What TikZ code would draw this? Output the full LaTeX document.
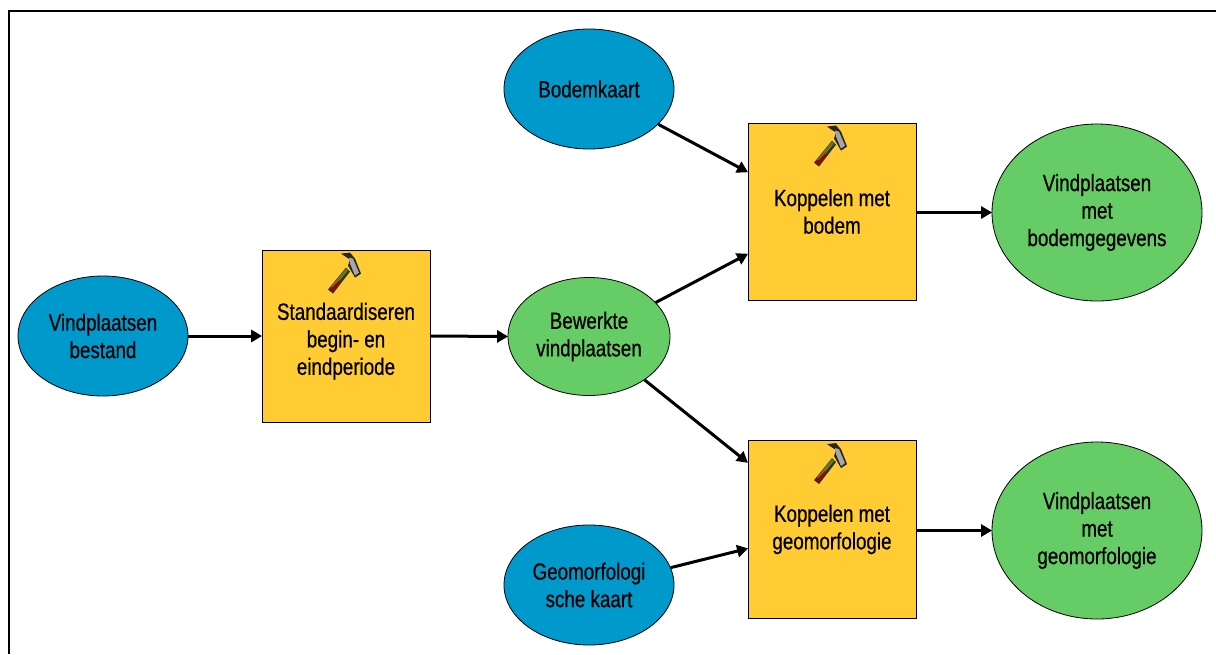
\documentclass[tikz,border=0pt]{standalone}
\usepackage{fontspec}
\setmainfont[FakeStretch=0.8,FakeBold=0.6]{Liberation Sans}
\usetikzlibrary{arrows.meta,shapes.geometric}
\definecolor{cblue}{HTML}{0099CC}
\definecolor{cyellow}{HTML}{FFCC33}
\definecolor{cgreen}{HTML}{66CC66}
\tikzset{
  x=1pt,y=-1pt,
  basetxt/.style={align=center,font=\fontsize{23.5}{27.5}\selectfont,text=black,inner sep=0pt},
  dataell/.style={basetxt,shape=ellipse,draw=black,line width=0.8pt,minimum width=170pt,minimum height=120pt},
  inblue/.style={dataell,fill=cblue},
  outgreen/.style={dataell,fill=cgreen},
  toolbox/.style={basetxt,shape=rectangle,draw=black,line width=0.8pt,fill=cyellow,minimum width=168pt},
  flow/.style={draw=black,line width=3pt,-{Triangle[length=11pt,width=12pt]},shorten >=-0.5pt},
  pics/hammer/.style={code={
    \fill[black!80] (-18,40) -- (-13,44) -- (4,22) -- (0,18) -- cycle;
    \fill[olive!85!green!75!black] (-15,37) -- (-13,39) -- (2,21) -- (0,19) -- cycle;
    \fill[red!65!black] (-16,40) -- (-13,42) -- (-5,32) -- (-7,31) -- cycle;
    \fill[black!85] (-5,4) -- (4,3) -- (9,9) -- (15,24) -- (9,28) -- (2,16) -- (4,10) -- cycle;
    \fill[black!35] (3,8) -- (7,9) -- (13,23) -- (9,26) -- (4,14) -- cycle;
  }}
}
\begin{document}
\begin{tikzpicture}
\useasboundingbox (0,0) rectangle (1216,654);
\fill[white] (0,0) rectangle (1216,654);
\draw[black,line width=2pt] (9,654) -- (9,10.5) -- (1216,10.5);

\node[inblue] (bestand) at (103,336) {Vindplaatsen\\bestand};
\node[toolbox,minimum height=172pt] (std) at (346,336) {\\Standaardiseren\\begin- en\\eindperiode};
\node[outgreen,minimum width=162pt,minimum height=118pt] (bew) at (589,336.5) {Bewerkte\\vindplaatsen};
\node[inblue] (bodem) at (589,89) {Bodemkaart};
\node[inblue] (geo) at (589,585) {Geomorfologi\\sche kaart};
\node[toolbox,minimum height=177pt] (kb) at (832,211.5) {Koppelen met\\bodem};
\node[toolbox,minimum height=178pt] (kg) at (832,529.5) {Koppelen met\\geomorfologie};
\node[outgreen,minimum width=210pt,minimum height=177pt] (rb) at (1097,212.5) {Vindplaatsen\\met\\bodemgegevens};
\node[outgreen,minimum width=210pt,minimum height=177pt] (rg) at (1097,530.5) {Vindplaatsen\\met\\geomorfologie};

\pic at (std.north) {hammer};
\pic at (kb.north) {hammer};
\pic at (kg.north) {hammer};

\draw[flow] (bestand.east) -- (std.west);
\draw[flow] (std.east) -- (bew.west);
\draw[flow] (kb.east |- rb.west) -- (rb.west);
\draw[flow] (kg.east |- rg.west) -- (rg.west);
\draw[flow] (bodem.-27) -- ([yshift=39.5pt]kb.west);
\draw[flow] (bew.27) -- ([yshift=-42.5pt]kb.west);
\draw[flow] (bew.-38) -- ([yshift=67pt]kg.west);
\draw[flow] (geo.12) -- ([yshift=-19pt]kg.west);
\end{tikzpicture}
\end{document}
